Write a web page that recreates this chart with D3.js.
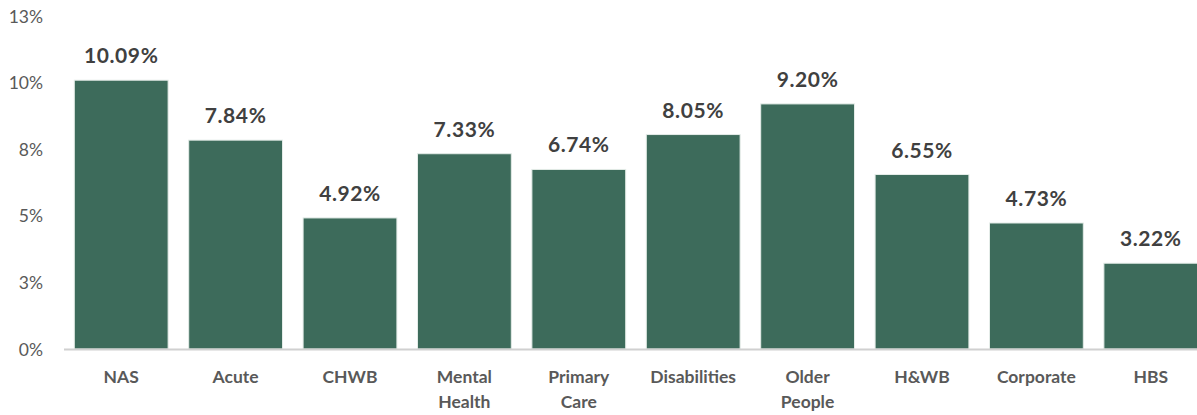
<!DOCTYPE html>
<html>
<head>
<meta charset="utf-8">
<script src="https://cdn.jsdelivr.net/npm/d3@7"></script>
<style>
  body { margin: 0; background: #fff; }
  text { font-family: Lato, "Open Sans", sans-serif; }
</style>
</head>
<body>
<script>
// chart values
const categories = ["NAS", "Acute", "CHWB", "Mental Health", "Primary Care", "Disabilities", "Older People", "H&WB", "Corporate", "HBS"];
const values = [10.09, 7.84, 4.92, 7.33, 6.74, 8.05, 9.20, 6.55, 4.73, 3.22];
const tickValues = [0, 2.5, 5, 7.5, 10, 12.5];
const tickLabels = ["0%", "3%", "5%", "8%", "10%", "13%"];

let width = 1197;
let height = 415;
let svg = d3.select("body").append("svg")
  .attr("width", width)
  .attr("height", height);

// plot area runs a little past the right edge, like the original
let x = d3.scaleBand()
  .domain(categories)
  .range([64, 1208])
  .paddingInner(0.18)
  .paddingOuter(0.09);

let y = d3.scaleLinear()
  .domain([0, 12.5])
  .range([349, 16]);

// y tick labels (no gridlines)
svg.append("g").selectAll("text")
  .data(tickValues)
  .enter()
  .append("text")
  .attr("x", 43)
  .attr("y", d => y(d) + 6.5)
  .attr("text-anchor", "end")
  .attr("font-size", 17.5)
  .attr("fill", "#595959")
  .text((d, i) => tickLabels[i]);

// bars
svg.append("g").selectAll("rect")
  .data(values)
  .enter()
  .append("rect")
  .attr("x", (d, i) => x(categories[i]))
  .attr("y", d => y(d))
  .attr("width", x.bandwidth())
  .attr("height", d => y(0) - y(d))
  .attr("fill", "#3d6b5b")
  .attr("stroke", "#e4ece8")
  .attr("stroke-width", 1);

// baseline
svg.append("line")
  .attr("x1", 64)
  .attr("x2", width)
  .attr("y1", y(0) + 0.5)
  .attr("y2", y(0) + 0.5)
  .attr("stroke", "#d0d0d0")
  .attr("stroke-width", 2);

// value labels
svg.append("g").selectAll("text")
  .data(values)
  .enter()
  .append("text")
  .attr("x", (d, i) => x(categories[i]) + x.bandwidth() / 2)
  .attr("y", d => y(d) - 17)
  .attr("text-anchor", "middle")
  .attr("font-size", 21)
  .attr("font-weight", "bold")
  .attr("letter-spacing", 0.6)
  .attr("fill", "#404040")
  .text(d => d.toFixed(2) + "%");

// category labels, wrapped onto two lines where the name has a space
let cat = svg.append("g").selectAll("text")
  .data(categories)
  .enter()
  .append("text")
  .attr("x", d => x(d) + x.bandwidth() / 2)
  .attr("y", 383)
  .attr("text-anchor", "middle")
  .attr("font-size", 17.5)
  .attr("font-weight", "bold")
  .attr("fill", "#595959");

cat.each(function (d) {
  let words = d.split(" ");
  let t = d3.select(this);
  words.forEach((w, i) => {
    t.append("tspan")
      .attr("x", x(d) + x.bandwidth() / 2)
      .attr("dy", i == 0 ? 0 : 25)
      .text(w);
  });
});
</script>
</body>
</html>
